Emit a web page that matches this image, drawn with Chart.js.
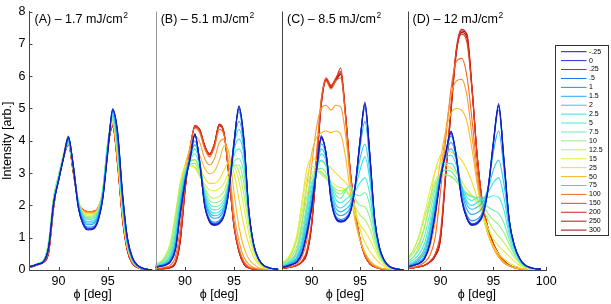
<!DOCTYPE html>
<html lang="en">
<head>
  <meta charset="UTF-8">
  <title>Intensity vs phi</title>
  <script src="https://cdn.jsdelivr.net/npm/chart.js"></script>
  <style>
    html, body { margin: 0; padding: 0; background: #fff; }
  </style>
</head>
<body>
  <canvas id="grafico" width="611" height="304"></canvas>

  <script>
    // delay labels (legend) and their colours, blue -> red
    const delays = ['-.25', '0', '.25', '.5', '1', '1.5', '2', '2.5', '5', '7.5', '10', '12.5', '15', '25', '50', '75', '100', '150', '200', '250', '300'];
    const colors = ['#1a1ab4', '#1f2fe0', '#1f50f5', '#1a6ef8', '#1e8cf8', '#28a8f5', '#30c4f0', '#38dcec', '#48ecd8', '#6cf0b0',
                    '#90f088', '#b8f060', '#e0f040', '#f5dc30', '#f8b828', '#f89830', '#f26a26', '#e6401c', '#d42016', '#bb1010', '#a00a0a'];

    const panelTitles = ['(A) – 1.7 mJ/cm', '(B) – 5.1 mJ/cm', '(C) – 8.5 mJ/cm', '(D) – 12 mJ/cm'];

    // phi [deg] sample points, same in every panel
    const phi = [87, 87.5, 88, 88.5, 89, 89.5, 90, 90.5, 91, 91.5, 92, 92.5, 93, 93.5, 94, 94.5, 95, 95.5, 96, 96.5, 97, 97.5, 98, 98.5, 99, 99.5];

    const xTicks = [90, 95];
    const xTicksLast = [90, 95, 100];
    const yTicks = [0, 1, 2, 3, 4, 5, 6, 7, 8];

    // one row per delay
    const intensityA = [
      [0.10,0.14,0.19,0.26,0.70,2.05,2.75,3.45,4.10,3.20,1.95,1.40,1.24,1.26,1.50,2.20,3.60,4.95,4.30,2.40,1.00,0.40,0.16,0.06,0.02,0.00],
      [0.10,0.14,0.19,0.27,0.72,2.08,2.78,3.48,4.12,3.18,1.93,1.42,1.27,1.28,1.52,2.24,3.65,4.98,4.25,2.35,0.98,0.38,0.15,0.06,0.02,0.00],
      [0.09,0.13,0.19,0.26,0.70,2.04,2.76,3.46,4.08,3.22,1.97,1.44,1.29,1.30,1.55,2.26,3.68,4.92,4.22,2.32,0.96,0.37,0.15,0.06,0.02,0.00],
      [0.10,0.14,0.20,0.27,0.71,2.06,2.77,3.47,4.14,3.25,1.99,1.45,1.27,1.29,1.53,2.25,3.70,5.00,4.20,2.30,0.95,0.37,0.15,0.05,0.02,0.00],
      [0.10,0.14,0.19,0.26,0.70,2.05,2.76,3.46,4.05,3.24,2.00,1.48,1.33,1.34,1.58,2.28,3.72,4.90,4.15,2.25,0.93,0.36,0.14,0.05,0.02,0.00],
      [0.10,0.14,0.19,0.26,0.72,2.08,2.78,3.46,4.02,3.24,2.04,1.54,1.40,1.42,1.64,2.32,3.78,4.85,4.05,2.15,0.88,0.34,0.13,0.05,0.02,0.00],
      [0.10,0.14,0.20,0.27,0.74,2.10,2.80,3.47,4.00,3.22,2.08,1.58,1.45,1.47,1.68,2.36,3.82,4.80,3.98,2.10,0.86,0.33,0.13,0.05,0.02,0.00],
      [0.10,0.14,0.20,0.28,0.76,2.12,2.82,3.48,3.98,3.20,2.10,1.62,1.50,1.52,1.72,2.40,3.86,4.76,3.92,2.05,0.84,0.32,0.12,0.05,0.02,0.00],
      [0.10,0.15,0.20,0.29,0.80,2.16,2.85,3.50,3.95,3.18,2.12,1.67,1.56,1.58,1.77,2.44,3.90,4.72,3.85,2.00,0.82,0.31,0.12,0.05,0.02,0.00],
      [0.11,0.15,0.21,0.30,0.85,2.22,2.90,3.52,3.92,3.15,2.12,1.70,1.60,1.62,1.80,2.46,3.92,4.68,3.78,1.95,0.80,0.30,0.12,0.05,0.02,0.00],
      [0.11,0.15,0.21,0.31,0.88,2.26,2.92,3.54,3.90,3.12,2.12,1.72,1.63,1.65,1.82,2.48,3.94,4.65,3.72,1.92,0.78,0.30,0.12,0.05,0.02,0.00],
      [0.11,0.16,0.22,0.32,0.90,2.28,2.95,3.56,3.92,3.12,2.13,1.74,1.66,1.68,1.84,2.50,3.95,4.62,3.66,1.88,0.76,0.29,0.11,0.04,0.02,0.00],
      [0.10,0.15,0.21,0.30,0.84,2.20,2.92,3.58,4.00,3.15,2.15,1.77,1.70,1.71,1.86,2.52,3.96,4.60,3.60,1.84,0.74,0.28,0.11,0.04,0.02,0.00],
      [0.10,0.14,0.20,0.28,0.78,2.12,2.88,3.58,4.10,3.18,2.16,1.80,1.74,1.74,1.88,2.50,3.92,4.58,3.52,1.78,0.72,0.27,0.11,0.04,0.02,0.00],
      [0.09,0.14,0.19,0.27,0.72,2.06,2.86,3.56,4.15,3.18,2.16,1.82,1.77,1.77,1.90,2.48,3.90,4.55,3.45,1.74,0.70,0.26,0.10,0.04,0.01,0.00],
      [0.09,0.13,0.19,0.26,0.68,2.02,2.85,3.54,4.12,3.15,2.15,1.84,1.79,1.79,1.91,2.46,3.88,4.52,3.40,1.70,0.68,0.25,0.10,0.04,0.01,0.00],
      [0.08,0.13,0.18,0.25,0.62,1.98,2.84,3.50,4.00,3.10,2.13,1.85,1.80,1.81,1.92,2.45,3.85,4.50,3.35,1.66,0.65,0.24,0.10,0.04,0.01,0.00],
      [0.08,0.13,0.18,0.25,0.58,1.96,2.86,3.48,3.95,3.06,2.12,1.86,1.81,1.82,1.92,2.42,3.82,4.48,3.32,1.62,0.62,0.22,0.09,0.03,0.01,0.00],
      [0.08,0.13,0.18,0.25,0.56,1.95,2.88,3.48,3.92,3.04,2.11,1.86,1.80,1.81,1.91,2.40,3.80,4.46,3.30,1.60,0.60,0.21,0.08,0.03,0.01,0.00],
      [0.08,0.12,0.18,0.25,0.55,1.94,2.88,3.47,3.90,3.02,2.10,1.85,1.79,1.80,1.90,2.40,3.80,4.45,3.28,1.58,0.59,0.20,0.08,0.03,0.01,0.00],
      [0.08,0.12,0.17,0.24,0.54,1.93,2.87,3.46,3.88,3.00,2.09,1.84,1.78,1.80,1.90,2.38,3.78,4.44,3.26,1.56,0.58,0.20,0.08,0.03,0.01,0.00]
    ];

    const intensityB = [
      [0.08,0.12,0.15,0.25,0.60,1.70,2.70,3.40,4.20,3.30,2.00,1.50,1.40,1.45,1.70,2.50,3.90,5.05,4.10,1.90,0.80,0.35,0.15,0.08,0.04,0.02],
      [0.08,0.12,0.16,0.26,0.62,1.72,2.72,3.42,4.22,3.28,1.98,1.48,1.38,1.43,1.68,2.48,3.92,5.08,4.05,1.88,0.80,0.35,0.15,0.08,0.04,0.02],
      [0.08,0.12,0.16,0.26,0.63,1.74,2.74,3.44,4.18,3.32,2.02,1.52,1.42,1.47,1.72,2.52,3.95,5.00,4.08,1.92,0.82,0.36,0.15,0.08,0.04,0.02],
      [0.09,0.12,0.16,0.27,0.64,1.75,2.75,3.45,4.20,3.34,2.04,1.53,1.44,1.49,1.74,2.55,3.98,4.98,4.00,1.86,0.79,0.34,0.15,0.08,0.04,0.02],
      [0.09,0.13,0.17,0.28,0.66,1.78,2.78,3.46,4.15,3.36,2.08,1.58,1.48,1.53,1.78,2.58,4.00,4.90,3.95,1.84,0.78,0.34,0.14,0.07,0.04,0.02],
      [0.10,0.14,0.19,0.32,0.75,1.90,2.85,3.48,4.00,3.38,2.18,1.70,1.60,1.64,1.88,2.66,3.95,4.60,3.85,1.82,0.78,0.34,0.14,0.07,0.04,0.02],
      [0.11,0.15,0.21,0.36,0.85,2.00,2.90,3.48,3.88,3.35,2.25,1.78,1.68,1.72,1.95,2.70,3.85,4.35,3.70,1.80,0.77,0.33,0.14,0.07,0.04,0.02],
      [0.12,0.16,0.23,0.40,0.95,2.10,2.95,3.45,3.75,3.30,2.32,1.86,1.76,1.80,2.02,2.72,3.72,4.05,3.55,1.78,0.76,0.33,0.14,0.07,0.04,0.02],
      [0.13,0.18,0.27,0.48,1.10,2.22,2.98,3.40,3.60,3.20,2.40,1.96,1.86,1.90,2.10,2.75,3.55,3.75,3.30,1.74,0.75,0.32,0.14,0.07,0.04,0.02],
      [0.15,0.20,0.32,0.58,1.28,2.35,3.00,3.33,3.42,3.08,2.45,2.05,1.96,2.00,2.18,2.75,3.35,3.45,3.00,1.68,0.73,0.31,0.13,0.07,0.04,0.02],
      [0.17,0.23,0.38,0.70,1.48,2.48,3.05,3.28,3.30,2.98,2.50,2.15,2.08,2.12,2.28,2.78,3.25,3.25,2.70,1.58,0.70,0.30,0.13,0.06,0.04,0.02],
      [0.19,0.26,0.45,0.82,1.65,2.62,3.15,3.25,3.20,2.92,2.55,2.28,2.22,2.28,2.45,2.90,3.25,3.05,2.35,1.40,0.64,0.28,0.12,0.06,0.03,0.02],
      [0.18,0.25,0.44,0.84,1.72,2.70,3.20,3.22,3.15,2.90,2.65,2.48,2.45,2.52,2.70,3.05,3.20,2.75,1.95,1.15,0.54,0.24,0.10,0.05,0.03,0.01],
      [0.15,0.21,0.36,0.70,1.55,2.65,3.25,3.40,3.40,3.15,2.85,2.68,2.68,2.80,3.10,3.35,3.00,2.20,1.40,0.80,0.40,0.18,0.08,0.04,0.02,0.01],
      [0.11,0.15,0.24,0.45,1.12,2.35,3.25,3.70,3.85,3.55,3.15,2.98,3.05,3.40,3.85,3.60,2.40,1.35,0.70,0.35,0.18,0.08,0.04,0.02,0.01,0.00],
      [0.07,0.10,0.15,0.28,0.72,1.85,3.05,3.80,4.15,3.95,3.45,3.25,3.45,3.95,4.05,3.20,1.75,0.90,0.40,0.18,0.08,0.04,0.02,0.01,0.00,0.00],
      [0.04,0.06,0.09,0.15,0.40,1.30,2.75,3.80,4.40,4.25,3.75,3.50,3.80,4.35,4.15,2.95,1.45,0.68,0.27,0.10,0.05,0.02,0.01,0.00,0.00,0.00],
      [0.03,0.04,0.06,0.10,0.25,1.00,2.55,3.72,4.45,4.30,3.82,3.58,3.88,4.45,4.20,2.90,1.40,0.62,0.22,0.08,0.04,0.02,0.01,0.00,0.00,0.00],
      [0.02,0.03,0.05,0.08,0.22,0.92,2.50,3.70,4.48,4.32,3.84,3.60,3.92,4.50,4.22,2.88,1.38,0.60,0.20,0.07,0.03,0.01,0.00,0.00,0.00,0.00],
      [0.02,0.03,0.05,0.08,0.20,0.88,2.48,3.70,4.45,4.35,3.85,3.58,3.90,4.52,4.20,2.85,1.35,0.58,0.19,0.07,0.03,0.01,0.00,0.00,0.00,0.00],
      [0.02,0.03,0.04,0.07,0.19,0.86,2.45,3.68,4.42,4.34,3.86,3.56,3.88,4.50,4.18,2.82,1.33,0.56,0.18,0.06,0.03,0.01,0.00,0.00,0.00,0.00]
    ];

    const intensityC = [
      [0.08,0.12,0.17,0.25,0.50,1.10,1.90,3.10,4.10,3.60,2.20,1.60,1.50,1.55,1.80,2.60,4.00,5.15,3.60,1.60,0.70,0.30,0.12,0.05,0.02,0.00],
      [0.08,0.12,0.17,0.26,0.52,1.12,1.95,3.05,4.15,3.55,2.15,1.58,1.48,1.53,1.78,2.58,3.98,5.20,3.62,1.62,0.70,0.30,0.12,0.05,0.02,0.00],
      [0.08,0.12,0.17,0.25,0.51,1.10,1.92,3.02,4.08,3.62,2.22,1.62,1.52,1.57,1.82,2.62,4.02,5.10,3.58,1.58,0.69,0.29,0.12,0.05,0.02,0.00],
      [0.09,0.13,0.18,0.26,0.53,1.14,1.98,3.06,4.12,3.58,2.18,1.60,1.50,1.56,1.80,2.60,4.05,5.12,3.55,1.56,0.68,0.29,0.12,0.05,0.02,0.00],
      [0.09,0.13,0.18,0.27,0.55,1.16,2.00,3.08,4.05,3.60,2.25,1.66,1.56,1.62,1.86,2.64,4.00,5.00,3.50,1.55,0.67,0.28,0.11,0.05,0.02,0.00],
      [0.10,0.15,0.21,0.32,0.65,1.30,2.15,3.10,3.90,3.55,2.35,1.78,1.68,1.74,1.95,2.65,3.80,4.60,3.35,1.52,0.66,0.28,0.11,0.05,0.02,0.00],
      [0.11,0.16,0.24,0.37,0.75,1.45,2.30,3.10,3.75,3.45,2.45,1.90,1.80,1.88,2.05,2.62,3.45,3.90,3.05,1.45,0.64,0.27,0.11,0.05,0.02,0.00],
      [0.12,0.18,0.27,0.42,0.85,1.60,2.42,3.10,3.60,3.35,2.55,2.02,1.92,2.02,2.18,2.55,3.10,3.50,2.80,1.38,0.62,0.26,0.11,0.05,0.02,0.00],
      [0.14,0.20,0.31,0.50,1.00,1.80,2.58,3.10,3.40,3.20,2.65,2.18,2.08,2.18,2.30,2.45,2.70,2.85,2.35,1.25,0.58,0.25,0.10,0.04,0.02,0.00],
      [0.16,0.23,0.36,0.60,1.20,2.00,2.70,3.05,3.15,3.00,2.68,2.32,2.22,2.45,2.60,2.35,2.30,2.40,2.00,1.12,0.54,0.24,0.10,0.04,0.02,0.00],
      [0.19,0.27,0.44,0.75,1.45,2.25,2.85,3.05,3.02,2.88,2.66,2.42,2.35,2.50,2.60,2.20,2.00,1.95,1.62,0.98,0.50,0.22,0.09,0.04,0.02,0.00],
      [0.22,0.32,0.54,0.95,1.75,2.55,3.00,3.08,2.95,2.82,2.65,2.50,2.45,2.48,2.30,1.95,1.70,1.55,1.28,0.82,0.44,0.20,0.08,0.04,0.02,0.00],
      [0.24,0.35,0.62,1.10,2.00,2.85,3.20,3.18,3.05,2.90,2.75,2.62,2.55,2.48,2.20,1.75,1.40,1.20,0.95,0.65,0.36,0.17,0.07,0.03,0.01,0.00],
      [0.20,0.30,0.55,1.05,2.10,3.10,3.45,3.40,3.35,3.30,3.15,3.00,2.85,2.70,2.50,1.90,1.25,0.85,0.58,0.38,0.22,0.11,0.05,0.02,0.01,0.00],
      [0.12,0.18,0.32,0.62,1.40,2.60,3.60,4.10,4.25,4.30,4.25,4.30,4.20,3.50,2.40,1.50,0.90,0.55,0.30,0.16,0.08,0.04,0.02,0.01,0.00,0.00],
      [0.08,0.12,0.20,0.38,0.85,1.90,3.20,4.40,5.00,5.10,4.95,5.10,5.05,4.20,2.80,1.65,0.95,0.52,0.26,0.13,0.06,0.03,0.01,0.00,0.00,0.00],
      [0.06,0.08,0.12,0.20,0.40,0.90,2.00,3.60,5.30,5.85,5.60,5.85,5.95,4.70,2.95,1.75,0.95,0.47,0.22,0.10,0.05,0.02,0.01,0.00,0.00,0.00],
      [0.05,0.07,0.10,0.15,0.28,0.60,1.50,3.30,5.25,5.95,5.72,5.95,6.15,4.80,3.00,1.80,0.95,0.45,0.20,0.10,0.05,0.02,0.01,0.00,0.00,0.00],
      [0.05,0.07,0.10,0.15,0.25,0.52,1.40,3.20,5.20,5.90,5.70,5.90,6.25,4.85,3.05,1.82,0.96,0.45,0.20,0.10,0.05,0.02,0.01,0.00,0.00,0.00],
      [0.05,0.07,0.10,0.15,0.25,0.50,1.38,3.18,5.15,5.88,5.66,5.88,6.10,4.82,3.02,1.80,0.95,0.44,0.20,0.10,0.05,0.02,0.01,0.00,0.00,0.00],
      [0.05,0.07,0.10,0.14,0.24,0.48,1.35,3.15,5.10,5.85,5.64,5.85,6.05,4.78,3.00,1.78,0.94,0.44,0.19,0.09,0.05,0.02,0.01,0.00,0.00,0.00]
    ];

    const intensityD = [
      [0.10,0.15,0.20,0.35,0.80,1.70,2.80,3.60,4.30,3.50,2.20,1.60,1.40,1.45,1.70,2.50,3.90,5.10,3.40,1.55,0.75,0.35,0.15,0.08,0.04,0.02],
      [0.10,0.15,0.21,0.36,0.82,1.72,2.82,3.62,4.25,3.48,2.18,1.58,1.38,1.43,1.68,2.48,3.92,5.15,3.45,1.56,0.75,0.35,0.15,0.08,0.04,0.02],
      [0.10,0.15,0.21,0.36,0.82,1.74,2.84,3.62,4.28,3.55,2.24,1.63,1.43,1.48,1.73,2.53,3.95,5.05,3.38,1.54,0.74,0.34,0.15,0.08,0.04,0.02],
      [0.11,0.16,0.22,0.37,0.84,1.76,2.85,3.64,4.22,3.52,2.22,1.62,1.42,1.50,1.75,2.55,3.98,5.08,3.36,1.52,0.73,0.34,0.15,0.07,0.04,0.02],
      [0.11,0.16,0.22,0.38,0.86,1.78,2.86,3.62,4.15,3.55,2.30,1.70,1.52,1.58,1.80,2.55,3.90,4.95,3.32,1.52,0.73,0.34,0.15,0.07,0.04,0.02],
      [0.13,0.19,0.28,0.46,1.00,1.92,2.92,3.60,3.95,3.50,2.45,1.88,1.72,1.78,1.95,2.55,3.65,4.30,3.10,1.48,0.72,0.33,0.14,0.07,0.04,0.02],
      [0.15,0.22,0.33,0.55,1.15,2.05,2.95,3.55,3.75,3.40,2.55,2.02,1.88,1.95,2.10,2.50,3.10,3.40,2.65,1.38,0.70,0.32,0.14,0.07,0.04,0.02],
      [0.18,0.26,0.40,0.66,1.30,2.15,2.95,3.45,3.55,3.25,2.60,2.12,2.00,2.10,2.20,2.40,2.70,2.85,2.25,1.25,0.66,0.31,0.13,0.07,0.04,0.02],
      [0.22,0.32,0.50,0.82,1.50,2.30,2.95,3.30,3.30,3.05,2.62,2.25,2.15,2.25,2.25,2.25,2.30,2.25,1.85,1.10,0.60,0.29,0.12,0.06,0.03,0.02],
      [0.28,0.42,0.65,1.05,1.75,2.50,2.95,3.10,3.05,2.85,2.55,2.35,2.25,2.25,2.15,1.95,1.85,1.75,1.45,0.95,0.52,0.26,0.11,0.06,0.03,0.01],
      [0.35,0.55,0.85,1.35,2.00,2.65,2.90,2.95,2.90,2.75,2.50,2.35,2.28,2.20,2.00,1.75,1.55,1.40,1.15,0.80,0.46,0.23,0.10,0.05,0.03,0.01],
      [0.40,0.65,1.05,1.60,2.20,2.75,2.95,2.95,2.88,2.75,2.52,2.38,2.30,2.15,1.90,1.55,1.25,1.05,0.85,0.62,0.38,0.20,0.09,0.05,0.02,0.01],
      [0.38,0.65,1.10,1.75,2.45,3.05,3.25,3.25,3.15,3.00,2.75,2.50,2.30,2.05,1.70,1.30,0.95,0.75,0.58,0.42,0.26,0.14,0.06,0.03,0.02,0.01],
      [0.25,0.42,0.75,1.30,2.15,3.05,3.55,3.70,3.65,3.55,3.40,3.10,2.70,2.20,1.65,1.15,0.75,0.50,0.34,0.22,0.13,0.07,0.03,0.02,0.01,0.00],
      [0.12,0.20,0.35,0.65,1.20,2.20,3.40,4.30,4.85,5.00,4.95,4.60,3.70,2.60,1.70,1.10,0.70,0.42,0.25,0.14,0.08,0.04,0.02,0.01,0.00,0.00],
      [0.08,0.12,0.20,0.35,0.70,1.50,2.90,4.30,5.40,5.85,5.90,5.40,4.10,2.75,1.75,1.10,0.68,0.40,0.22,0.12,0.06,0.03,0.01,0.00,0.00,0.00],
      [0.06,0.09,0.14,0.24,0.45,1.00,2.40,4.05,5.60,6.45,6.55,6.00,4.60,3.00,1.85,1.15,0.70,0.42,0.22,0.12,0.06,0.03,0.01,0.00,0.00,0.00],
      [0.05,0.07,0.10,0.15,0.27,0.50,1.15,3.10,5.10,6.80,7.30,7.05,5.50,3.45,2.05,1.30,0.80,0.50,0.28,0.15,0.08,0.04,0.02,0.01,0.00,0.00],
      [0.05,0.07,0.10,0.15,0.25,0.45,1.00,3.00,5.00,6.85,7.45,7.25,5.55,3.40,2.00,1.28,0.80,0.50,0.28,0.15,0.08,0.04,0.02,0.01,0.00,0.00],
      [0.05,0.07,0.10,0.15,0.25,0.44,0.95,2.95,4.95,6.75,7.40,7.30,5.60,3.45,2.02,1.30,0.82,0.50,0.28,0.15,0.08,0.04,0.02,0.01,0.00,0.00],
      [0.05,0.07,0.10,0.14,0.24,0.42,0.92,2.90,4.90,6.70,7.35,7.20,5.50,3.40,2.00,1.28,0.80,0.50,0.28,0.15,0.08,0.04,0.02,0.01,0.00,0.00]
    ];

    // the four panels share one x scale; each gets its own phi range and width
    const panels = [
      { min: 87.05, max: 99.87, w: 126.2 },
      { min: 87.0,  max: 99.9,  w: 126.3 },
      { min: 86.95, max: 99.9,  w: 125.6 },
      { min: 86.9,  max: 100,   w: 138.7 }
    ];
    const offsets = [];
    let total = 0;
    panels.forEach(p => { offsets.push(total); total += p.w; });

    function xv(k, v) {
      const p = panels[k];
      return offsets[k] + (v - p.min) / (p.max - p.min) * p.w;
    }

    const tickVals = [], tickText = [];
    panels.forEach((p, k) => {
      (k === 3 ? xTicksLast : xTicks).forEach(t => { tickVals.push(xv(k, t)); tickText.push(String(t)); });
    });

    const series = [intensityA, intensityB, intensityC, intensityD];
    const datasets = delays.map((d, i) => {
      const pts = [];
      series.forEach((rows, k) => {
        phi.forEach((v, j) => pts.push({ x: xv(k, v), y: rows[i][j] }));
        pts.push({ x: offsets[k] + panels[k].w - 0.01, y: null });
      });
      return {
        label: d,
        data: pts,
        borderColor: colors[i],
        borderWidth: 1.1,
        pointRadius: 0,
        fill: false,
        spanGaps: false,
        cubicInterpolationMode: 'monotone'
      };
    });

    const FONT = '"Liberation Sans", Arial, sans-serif';

    const decor = {
      id: 'decor',
      afterDraw(chart) {
        const ctx = chart.ctx;
        const a = chart.chartArea;
        const ys = chart.scales.y;
        ctx.save();

        // panel borders
        offsets.slice(1).forEach((o, k) => {
          const x = Math.round(a.left + o) + 0.5;
          ctx.strokeStyle = k === 0 ? '#999' : '#444';
          ctx.lineWidth = 1;
          ctx.beginPath(); ctx.moveTo(x, a.top); ctx.lineTo(x, a.bottom); ctx.stroke();
        });

        // inward ticks
        ctx.strokeStyle = '#444';
        yTicks.forEach(t => {
          const y = Math.round(ys.getPixelForValue(t)) + 0.5;
          ctx.beginPath(); ctx.moveTo(a.left, y); ctx.lineTo(a.left + 3, y); ctx.stroke();
        });
        tickVals.forEach(v => {
          const x = Math.round(chart.scales.x.getPixelForValue(v)) + 0.5;
          ctx.beginPath(); ctx.moveTo(x, a.bottom); ctx.lineTo(x, a.bottom - 3); ctx.stroke();
        });

        // panel titles and x titles
        ctx.fillStyle = '#000';
        panels.forEach((p, k) => {
          const left = a.left + offsets[k];
          ctx.font = '12.5px ' + FONT;
          ctx.textAlign = 'left';
          ctx.textBaseline = 'alphabetic';
          ctx.fillText(panelTitles[k], left + 5, 23);
          const w = ctx.measureText(panelTitles[k]).width;
          ctx.font = '8.5px ' + FONT;
          ctx.fillText('2', left + 5 + w + 0.5, 18);

          ctx.font = '12.5px ' + FONT;
          ctx.textAlign = 'center';
          ctx.fillText('ϕ [deg]', left + p.w / 2, 298);
        });

        // legend box
        const lx = 555.5, ly = 45.5, lw = 53, lh = 190;
        ctx.fillStyle = '#fff';
        ctx.fillRect(lx, ly, lw, lh);
        ctx.strokeStyle = '#333';
        ctx.strokeRect(lx, ly, lw, lh);
        ctx.font = '7px ' + FONT;
        ctx.textAlign = 'left';
        ctx.textBaseline = 'middle';
        chart.data.datasets.forEach((ds, i) => {
          const y = 51.7 + i * 8.92;
          ctx.strokeStyle = ds.borderColor;
          ctx.lineWidth = 1;
          ctx.beginPath(); ctx.moveTo(561, y); ctx.lineTo(586.5, y); ctx.stroke();
          ctx.fillStyle = '#000';
          ctx.fillText(ds.label, 589, y);
        });
        ctx.restore();
      }
    };

    new Chart(document.getElementById('grafico'), {
      type: 'line',
      data: { datasets: datasets },
      options: {
        responsive: false,
        animation: false,
        events: [],
        layout: { padding: { left: 0, top: 11, right: 611 - 29.5 - total, bottom: 0 } },
        plugins: { legend: { display: false }, tooltip: { enabled: false } },
        scales: {
          x: {
            type: 'linear',
            min: 0,
            max: total,
            grid: { display: false, drawTicks: false },
            border: { display: true, color: '#444' },
            afterBuildTicks: s => { s.ticks = tickVals.map(v => ({ value: v })); },
            afterFit: s => { s.height = 34; },
            ticks: {
              autoSkip: false,
              maxRotation: 0,
              padding: 4,
              color: '#000',
              font: { family: FONT, size: 12.5 },
              callback: (v, i) => tickText[i]
            }
          },
          y: {
            min: 0,
            max: 8,
            grid: { display: false, drawTicks: false },
            border: { display: true, color: '#444' },
            afterFit: s => { s.width = 29.5; },
            ticks: { stepSize: 1, padding: 4, color: '#000', font: { family: FONT, size: 12.5 } },
            title: { display: true, text: 'Intensity [arb.]', color: '#000', padding: 0, font: { family: FONT, size: 12.5 } }
          }
        }
      },
      plugins: [decor]
    });
  </script>
</body>
</html>
